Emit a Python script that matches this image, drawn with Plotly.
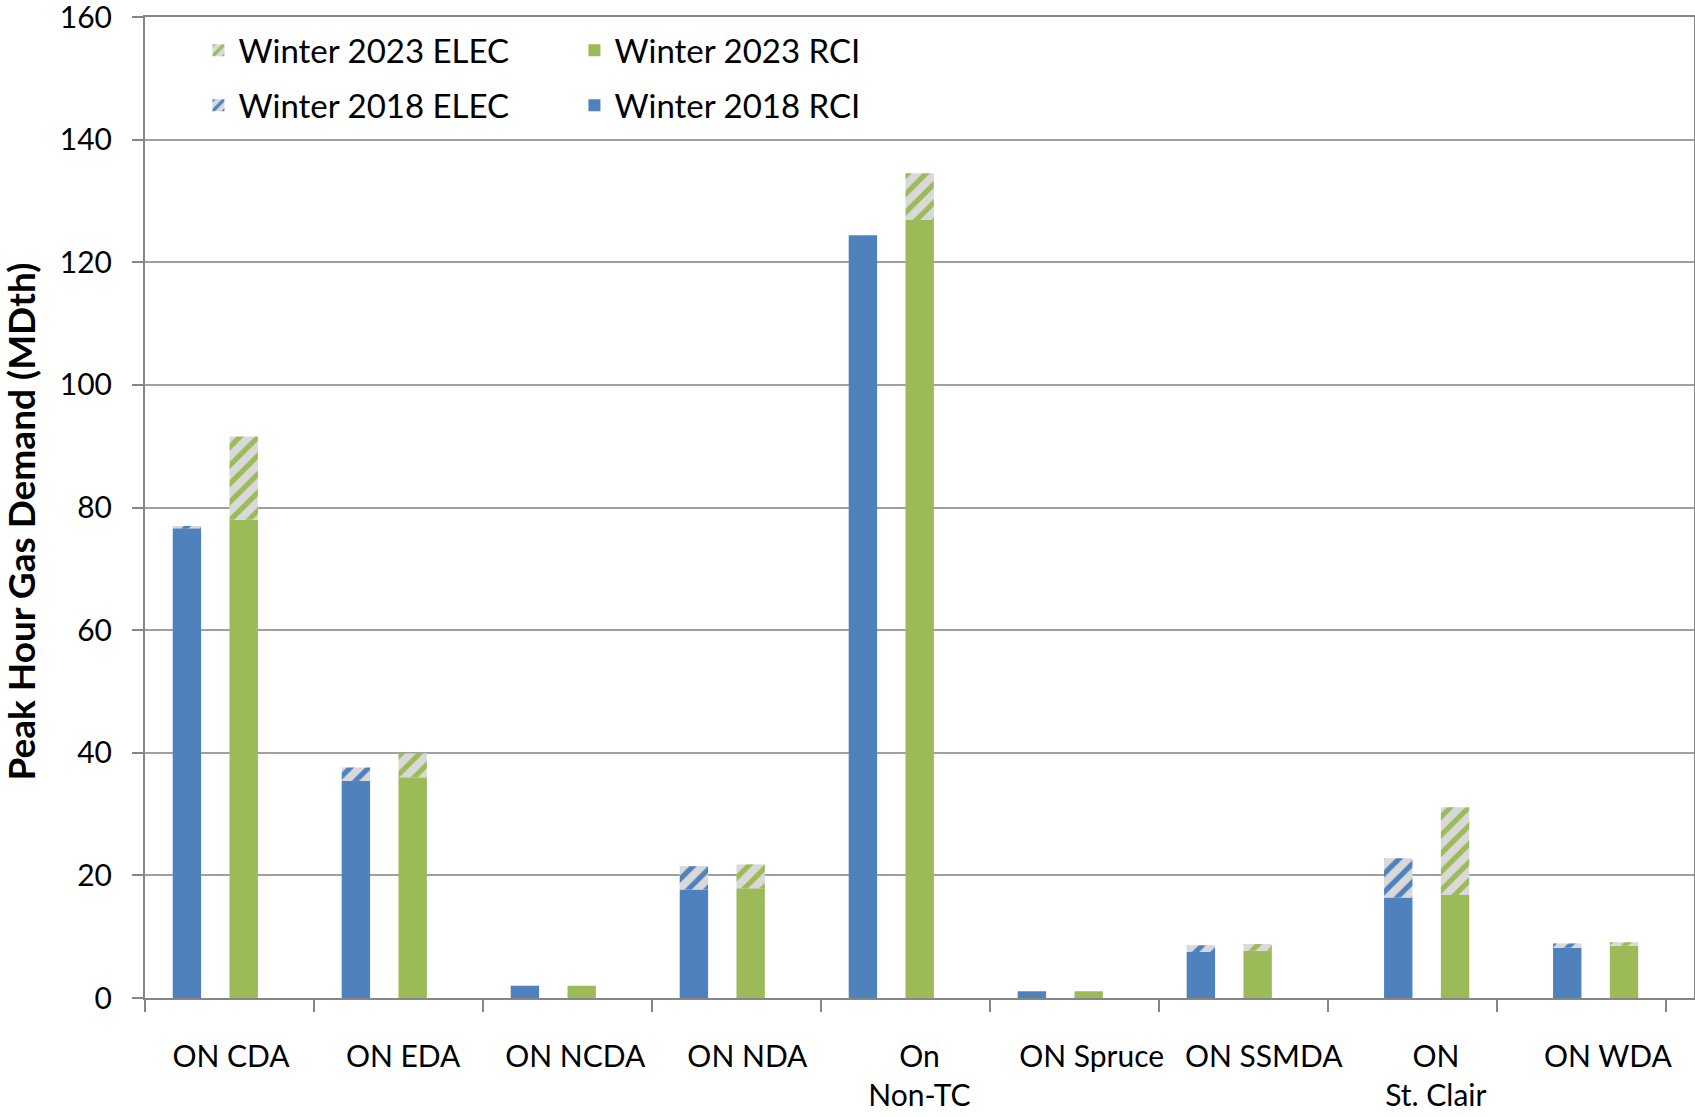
import plotly.graph_objects as go

categories = ["ON CDA", "ON EDA", "ON NCDA", "ON NDA", "On<br>Non-TC",
              "ON Spruce", "ON SSMDA", "ON<br>St. Clair", "ON WDA"]
rci_2018 = [76.6, 35.4, 2.0, 17.7, 124.4, 1.1, 7.5, 16.4, 8.2]
elec_2018 = [0.4, 2.2, 0.0, 3.8, 0.0, 0.0, 1.1, 6.4, 0.7]
rci_2023 = [78.0, 36.0, 2.0, 17.9, 126.9, 1.1, 7.7, 16.8, 8.5]
elec_2023 = [13.6, 3.9, 0.0, 3.9, 7.6, 0.0, 1.1, 14.3, 0.6]
y_ticks = [0, 20, 40, 60, 80, 100, 120, 140, 160]

BLUE = "#4f81bd"
GREEN = "#9bbb59"
HATCH_BG = "#d9d9d9"
AXIS = "#868686"
GRID = "#a0a0a0"
FONT = "Lato"

n = len(categories)
# bar slot geometry (in category units)
w = 0.168
shifted_from = 7  # last two categories are drawn one slot further right
off_2018 = [(-2 * w if i < shifted_from else -w) for i in range(n)]
off_2023 = [(0.0 if i < shifted_from else w) for i in range(n)]

fig = go.Figure()

fig.add_trace(go.Bar(
    x=categories, y=rci_2018, name="Winter 2018 RCI", legend="legend2",
    width=w, offset=off_2018, marker=dict(color=BLUE, line=dict(width=0)),
    legendrank=2))
fig.add_trace(go.Bar(
    x=categories, y=elec_2018, base=rci_2018, name="Winter 2018 ELEC", legend="legend2",
    width=w, offset=off_2018,
    marker=dict(color=HATCH_BG, line=dict(width=0),
                pattern=dict(shape="/", fgcolor=BLUE, bgcolor=HATCH_BG,
                             size=13, solidity=0.4, fillmode="replace")),
    legendrank=1))
fig.add_trace(go.Bar(
    x=categories, y=rci_2023, name="Winter 2023 RCI", legend="legend",
    width=w, offset=off_2023, marker=dict(color=GREEN, line=dict(width=0)),
    legendrank=2))
fig.add_trace(go.Bar(
    x=categories, y=elec_2023, base=rci_2023, name="Winter 2023 ELEC", legend="legend",
    width=w, offset=off_2023,
    marker=dict(color=HATCH_BG, line=dict(width=0),
                pattern=dict(shape="/", fgcolor=GREEN, bgcolor=HATCH_BG,
                             size=13, solidity=0.4, fillmode="replace")),
    legendrank=1))
# carrier for the category-label axis (labels spread over the full plot width)
fig.add_trace(go.Scatter(x=[None], y=[None], xaxis="x2", yaxis="y",
                         showlegend=False, hoverinfo="skip", mode="markers"))

legend_common = dict(
    orientation="h", xanchor="left", yanchor="middle",
    font=dict(family=FONT, size=33, color="black"),
    bgcolor="rgba(0,0,0,0)", entrywidth=331, entrywidthmode="pixels",
    traceorder="normal", itemclick=False,
)

fig.update_layout(
    width=1695, height=1117,
    margin=dict(l=145, r=1, t=17, b=119),
    paper_bgcolor="white", plot_bgcolor="white",
    barmode="overlay",
    font=dict(family=FONT, size=30, color="black"),
    showlegend=True,
    legend=dict(**legend_common, x=0.0345, y=0.966),
    legend2=dict(**legend_common, x=0.0345, y=0.910),
    xaxis=dict(
        type="category", categoryorder="array", categoryarray=categories,
        range=[-0.5, n - 0.5 + 0.166],
        tickson="boundaries", ticks="outside", ticklen=12, tickwidth=2,
        tickcolor=AXIS, showline=True, linecolor=AXIS, linewidth=2,
        showgrid=False, mirror=True, automargin=False,
        showticklabels=False,
    ),
    xaxis2=dict(
        overlaying="x", side="bottom", range=[-0.5, n - 0.5],
        tickvals=list(range(n)), ticktext=categories,
        ticks="", showline=False, showgrid=False, zeroline=False,
        automargin=False, tickangle=0,
        tickfont=dict(family=FONT, size=30, color="black"),
        ticklabelstandoff=38,
    ),
    yaxis=dict(
        range=[0, 160], tickvals=y_ticks, ticks="outside", ticklen=11,
        tickwidth=2, tickcolor=AXIS, showline=True, linecolor=AXIS, linewidth=2,
        showgrid=True, gridcolor=GRID, gridwidth=2, zeroline=False,
        mirror=True, automargin=False, ticklabeloverflow="allow",
        tickfont=dict(family=FONT, size=30, color="black"),
        ticklabelstandoff=14,
    ),
    annotations=[dict(
        text="<b>Peak Hour Gas Demand (MDth)</b>", textangle=-90,
        xref="paper", yref="paper", x=-0.0805, y=0.486,
        xanchor="center", yanchor="middle", showarrow=False,
        font=dict(family=FONT, size=37, color="black"),
    )],
)

fig.write_html("out.html", config={"displayModeBar": False},
               post_script="document.body.style.margin='0';")
